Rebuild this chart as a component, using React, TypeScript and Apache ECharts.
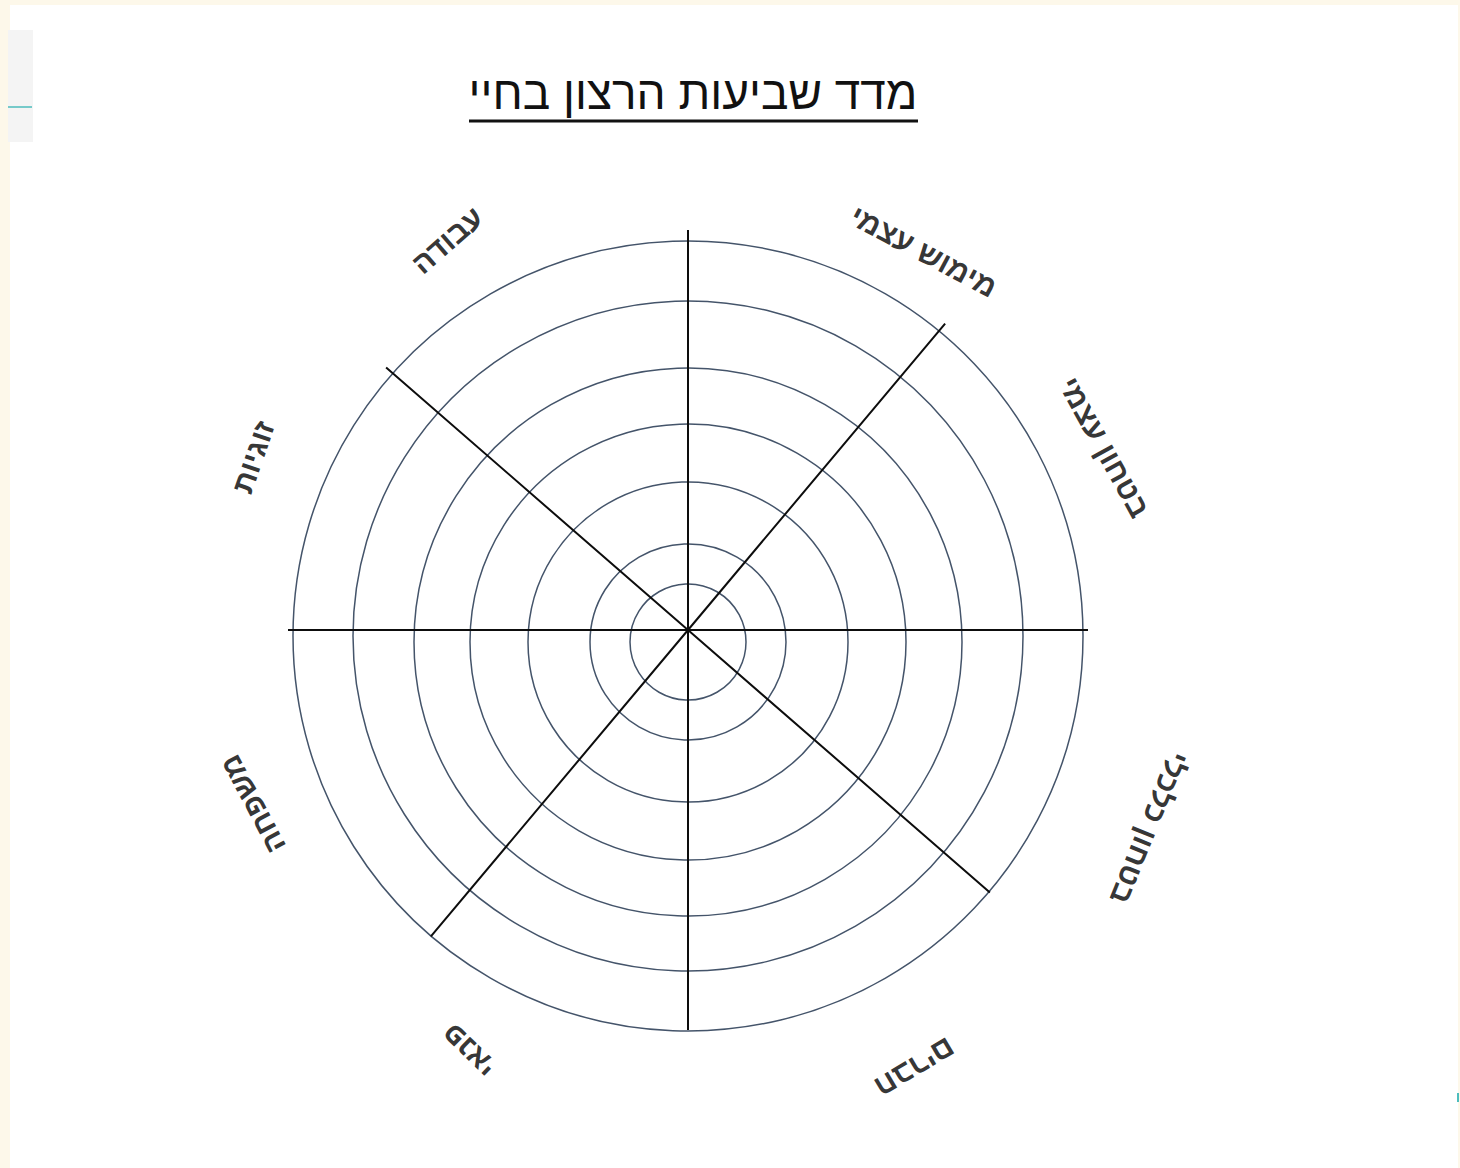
import React, { useEffect, useRef } from "react";
import * as echarts from "echarts";

const titleText = "מדד שביעות הרצון בחיי";
const categories = ["בטחון עצמי", "מימוש עצמי", "עבודה", "זוגיות", "משפחה", "פנאי", "חברים", "בטחון כלכלי"];
const labelAngles = [23.7, 58.1, 121.7, 158.3, 201.8, 242.5, 297.4, 336.8];
const labelRadii = [455, 446, 458, 468, 469, 474, 493, 502];
const labelRotations = [-61, -28, 41, 71, 118, 136, -149, -112];
const outerRingValues = [335, 395];
const innerRingValues = [58, 98, 160, 218, 274];
const spokeAngles = [0, 50, 90, 139, 180, 230, 270, 319];

const FONT = "'Liberation Sans', 'DejaVu Sans', sans-serif";

const hiddenAxis = {
  axisLine: { show: false },
  axisTick: { show: false },
  axisLabel: { show: false },
  splitLine: { show: false },
};

const ringLine = { show: true, lineStyle: { color: "#44546a", width: 1.5 } };

export default function App() {
  const ref = useRef<HTMLDivElement>(null);
  useEffect(() => {
    if (!ref.current) return;
    const chart = echarts.init(ref.current, undefined, { renderer: "svg" });
    chart.setOption({
      animation: false,
      backgroundColor: "#fdf8ea",
      polar: [
        { center: [688, 636], radius: 395 },
        { center: [688, 642], radius: 395 },
        { center: [688, 630], radius: 400 },
        { center: [688, 630], radius: 560 },
      ],
      radiusAxis: [
        {
          polarIndex: 0,
          type: "value",
          min: 0,
          max: 395,
          axisLine: { show: false },
          axisTick: { show: false, customValues: outerRingValues },
          axisLabel: { show: false },
          splitLine: ringLine,
        },
        {
          polarIndex: 1,
          type: "value",
          min: 0,
          max: 395,
          axisLine: { show: false },
          axisTick: { show: false, customValues: innerRingValues },
          axisLabel: { show: false },
          splitLine: ringLine,
        },
        { polarIndex: 2, type: "value", min: 0, max: 400, ...hiddenAxis },
        { polarIndex: 3, type: "value", min: 0, max: 560, ...hiddenAxis },
      ],
      angleAxis: [
        { polarIndex: 0, type: "value", min: 0, max: 360, ...hiddenAxis },
        { polarIndex: 1, type: "value", min: 0, max: 360, ...hiddenAxis },
        {
          polarIndex: 2,
          type: "value",
          min: 0,
          max: 360,
          startAngle: 0,
          clockwise: false,
          axisLine: { show: false },
          axisTick: { show: false, customValues: spokeAngles },
          axisLabel: { show: false },
          splitLine: { show: true, lineStyle: { color: "#0d0d0d", width: 2 } },
        },
        { polarIndex: 3, type: "value", min: 0, max: 360, startAngle: 0, clockwise: false, ...hiddenAxis },
      ],
      graphic: [
        { type: "rect", z: -20, shape: { x: 0, y: 0, width: 1460, height: 1168 }, style: { fill: "#fdf8ea" } },
        { type: "rect", z: -19, shape: { x: 10, y: 5, width: 1448, height: 1163 }, style: { fill: "#ffffff" } },
        { type: "rect", z: -18, shape: { x: 8, y: 30, width: 25, height: 112 }, style: { fill: "#f4f4f4" } },
        { type: "line", z: -17, shape: { x1: 8, y1: 107, x2: 32, y2: 107 }, style: { stroke: "#4dbdbd", lineWidth: 1.5 } },
        { type: "rect", z: -17, shape: { x: 1457, y: 1093, width: 2, height: 9 }, style: { fill: "#4dbdbd" } },
        {
          type: "text",
          x: 693,
          y: 116,
          style: {
            text: titleText,
            font: `46px ${FONT}`,
            fill: "#111111",
            textAlign: "center",
            textVerticalAlign: "bottom",
          },
        },
        { type: "line", shape: { x1: 469, y1: 121, x2: 918, y2: 121 }, style: { stroke: "#111111", lineWidth: 3 } },
      ],
      series: [
        {
          type: "scatter",
          coordinateSystem: "polar",
          polarIndex: 3,
          symbolSize: 2,
          silent: true,
          itemStyle: { color: "rgba(0,0,0,0)" },
          data: categories.map((c, i) => ({
            name: c,
            value: [labelRadii[i], labelAngles[i]],
            label: { rotate: labelRotations[i] },
          })),
          label: {
            show: true,
            position: "inside",
            formatter: "{b}",
            color: "#000000",
            fontSize: 30,
            fontWeight: "bold",
            fontFamily: FONT,
            align: "center",
            verticalAlign: "middle",
          },
          labelLayout: { hideOverlap: false },
        },
      ],
    });
    return () => chart.dispose();
  }, []);
  return <div ref={ref} style={{ position: "fixed", left: 0, top: 0, width: 1460, height: 1168 }} />;
}
